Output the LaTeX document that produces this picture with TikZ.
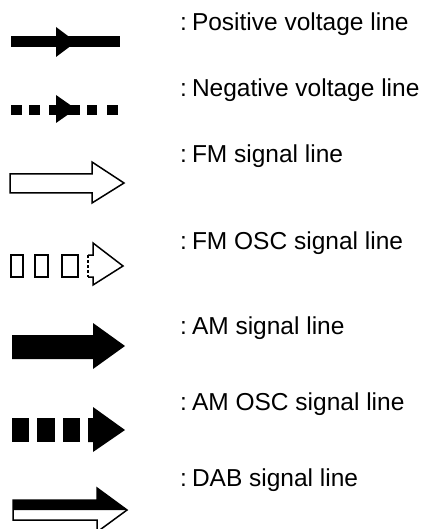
\documentclass[tikz,border=0pt]{standalone}
\usepackage{fontspec}
\setmainfont{Liberation Sans}
\tikzset{
  legendtext/.style={anchor=base west, inner sep=0pt, font=\fontsize{24.5}{29}\selectfont},
  outline/.style={line width=1.5pt, line join=miter}
}
\begin{document}
\begin{tikzpicture}[x=1pt,y=-1pt]
\useasboundingbox (0,0) rectangle (422,529);
% positive voltage line
\fill (11,36) rectangle (120,47);
\fill (56,27) -- (76,42) -- (56,57) -- cycle;
% negative voltage line
\foreach \a/\b in {11/22, 29/40, 49/80, 87/97, 107/118}
  \fill (\a,105) rectangle (\b,115);
\fill (56,95) -- (76,109) -- (56,123) -- cycle;
% FM signal line
\draw[outline] (10,174) -- (92,174) -- (92,162) -- (124,183) -- (92,203) -- (92,193) -- (10,193) -- cycle;
% FM OSC signal line
\foreach \a/\b in {11/23, 35/48, 62/78}
  \draw[outline] (\a,255) rectangle (\b,277);
\draw[outline] (88,255) -- (93,255) -- (93,243) -- (123,266) -- (93,285) -- (93,277) -- (88,277);
\draw[line width=1.5pt, dash pattern=on 3pt off 2pt] (88,255) -- (88,277);
% AM signal line
\fill (12,335) -- (93,335) -- (93,323) -- (125,346) -- (93,369) -- (93,359) -- (12,359) -- cycle;
% AM OSC signal line
\foreach \a/\b in {12/29, 37/55, 63/80}
  \fill (\a,418) rectangle (\b,442);
\fill (88,418) -- (93,418) -- (93,407) -- (125,430) -- (93,452) -- (93,442) -- (88,442) -- cycle;
% DAB signal line
\fill (13,500) -- (97,500) -- (97,488) -- (127,510) -- (13,510) -- cycle;
\draw[outline] (13,500) -- (97,500) -- (97,488) -- (127,510) -- (97,532) -- (97,520) -- (13,520) -- cycle;
% labels
\node[legendtext] (pos) at (180,31) {:\hspace{5pt}Positive voltage line};
\node[legendtext] (neg) at (180,97) {:\hspace{5pt}Negative voltage line};
\node[legendtext] (fm) at (180,163) {:\hspace{5pt}FM signal line};
\node[legendtext] (fmosc) at (180,249) {:\hspace{5pt}FM OSC signal line};
\node[legendtext] (am) at (180,334) {:\hspace{5pt}AM signal line};
\node[legendtext] (amosc) at (180,410) {:\hspace{5pt}AM OSC signal line};
\node[legendtext] (dab) at (180,486) {:\hspace{5pt}DAB signal line};
\end{tikzpicture}
\end{document}
